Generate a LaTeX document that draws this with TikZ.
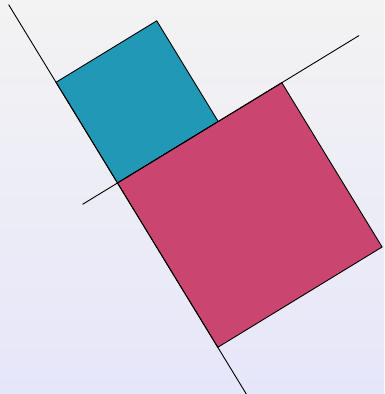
\documentclass[tikz,border=0pt]{standalone}
\usetikzlibrary{calc}
\definecolor{bgtop}{HTML}{F3F3F3}
\definecolor{bgbot}{HTML}{E6E6FA}
\definecolor{small}{HTML}{2199B6}
\definecolor{large}{HTML}{CA4570}

\begin{document}
\begin{tikzpicture}[x=1pt,y=1pt,line width=0.9pt]
  \shade[top color=bgtop,bottom color=bgbot] (0,0) rectangle (384,394);
  \clip (0,0) rectangle (384,394);
  \coordinate (O) at (117.5,211);

  % Squares
  \filldraw[fill=small] (O) -- ++(121.4:118) coordinate (A)
    -- ++(31.4:118) coordinate (T) -- ++(-58.6:118) coordinate (R) -- cycle;
  \filldraw[fill=large] (O) -- ++(-58.6:192.5) coordinate (B)
    -- ++(31.4:192.5) coordinate (C) -- ++(121.4:192.5) coordinate (D) -- cycle;

  % Lines through O
  \coordinate (L1a) at ($(O)+(121.4:209)$);
  \coordinate (L1b) at ($(O)+(-58.6:260)$);
  \coordinate (L2a) at ($(O)+(211.4:41)$);
  \coordinate (L2b) at ($(O)+(31.4:283)$);
  \draw (L1a) -- (L1b);
  \draw (L2a) -- (L2b);
\end{tikzpicture}
\end{document}
